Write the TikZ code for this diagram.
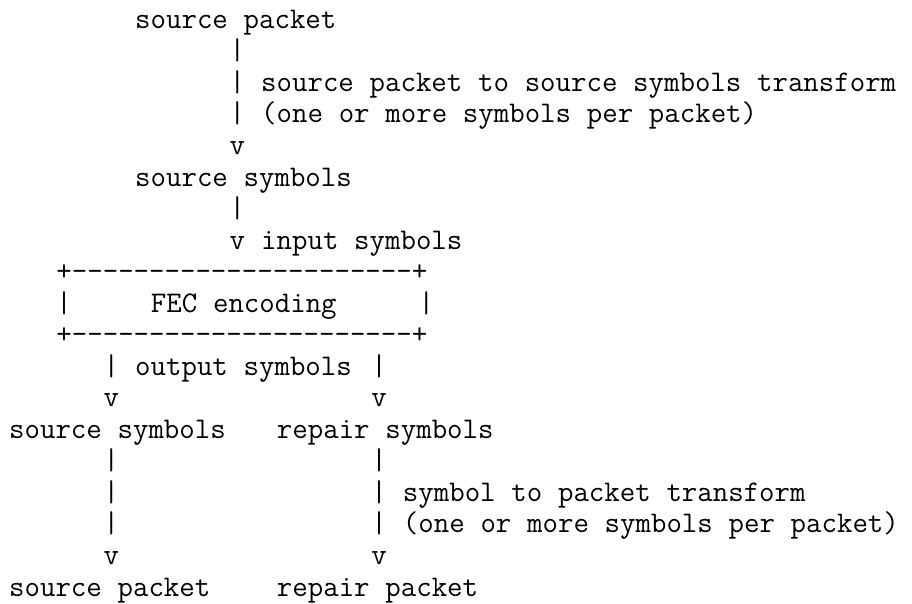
\documentclass[tikz,border=0pt]{standalone}
\usepackage{fontspec}
\usepackage{tikz}
\usetikzlibrary{positioning}
\newcommand{\asciifont}{\ttfamily\fontsize{30}{36}\selectfont\spaceskip=15.75pt plus 0pt minus 0pt\relax}

\begin{document}
\begin{tikzpicture}[
    x=15.75pt, y=-31.54pt,
    every node/.style={font=\asciifont, inner sep=0pt, anchor=base west},
    lbl/.style={text=black},
    conn/.style={text=black}
  ]
  \useasboundingbox (-9pt,28.3pt) rectangle ++(912pt,-603pt);

  % top chain: source packet -> source symbols -> FEC
  \node[lbl] (srcpkt) at (8,0) {source packet};
  \foreach \r in {1,2,3}
    \node[conn] (tbar\r) at (14,\r) {|};
  \node[lbl] (tnote1) at (16,2) {source packet to source symbols transform};
  \node[lbl] (tnote2) at (16,3) {(one or more symbols per packet)};
  \node[conn] (tarr1) at (14,4) {v};
  \node[lbl] (srcsym) at (8,5) {source symbols};
  \node[conn] (tbar6) at (14,6) {|};
  \node[conn] (tarr2) at (14,7) {v};
  \node[lbl] (insym) at (16,7) {input symbols};

  % FEC encoding box
  \node[conn] (boxtop) at (3,8) {+----------------------+};
  \node[conn] (boxl) at (3,9) {|};
  \node[lbl] (fec) at (9,9) {FEC encoding};
  \node[conn] (boxr) at (26,9) {|};
  \node[conn] (boxbot) at (3,10) {+----------------------+};

  % two branches: source and repair
  \node[conn] (obarl) at (6,11) {|};
  \node[lbl] (outsym) at (8,11) {output symbols};
  \node[conn] (obarr) at (23,11) {|};
  \node[conn] (oarrl) at (6,12) {v};
  \node[conn] (oarrr) at (23,12) {v};
  \node[lbl] (srcsym2) at (0,13) {source symbols};
  \node[lbl] (repsym) at (17,13) {repair symbols};
  \foreach \r in {14,15,16} {
    \node[conn] (lbar\r) at (6,\r) {|};
    \node[conn] (rbar\r) at (23,\r) {|};
  }
  \node[lbl] (bnote1) at (25,15) {symbol to packet transform};
  \node[lbl] (bnote2) at (25,16) {(one or more symbols per packet)};
  \node[conn] (barrl) at (6,17) {v};
  \node[conn] (barrr) at (23,17) {v};
  \node[lbl] (srcpkt2) at (0,18) {source packet};
  \node[lbl] (reppkt) at (17,18) {repair packet};

\end{tikzpicture}
\end{document}
